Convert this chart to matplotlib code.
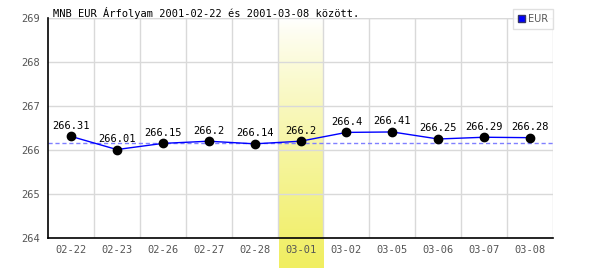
import numpy as np
import matplotlib.pyplot as plt
from matplotlib.patches import Patch

# MNB EUR exchange rates, 2001-02-22 .. 2001-03-08
dates = ["02-22", "02-23", "02-26", "02-27", "02-28", "03-01",
         "03-02", "03-05", "03-06", "03-07", "03-08"]
rates = [266.31, 266.01, 266.15, 266.2, 266.14, 266.2,
         266.4, 266.41, 266.25, 266.29, 266.28]
ref_level = 266.17
highlight = "03-01"
y_ticks = [264, 265, 266, 267, 268, 269]

MONO = "DejaVu Sans Mono"
GRID = "#d9d9d9"

fig = plt.figure(figsize=(6, 2.7), dpi=100)
ax = fig.add_axes([48 / 600, 32 / 270, 505 / 600, 220 / 270])

x = np.arange(len(dates))

# grid: horizontal at whole values, vertical between days
ax.set_yticks(y_ticks)
ax.set_xticks(x)
ax.set_xticks(x[:-1] + 0.5, minor=True)
ax.grid(axis="y", which="major", color=GRID, linewidth=1, zorder=0)
ax.grid(axis="x", which="minor", color=GRID, linewidth=1, zorder=0)
ax.axvline(len(dates) - 0.5, color=GRID, linewidth=1, zorder=0)
ax.axhline(y_ticks[-1], color=GRID, linewidth=1, zorder=0)

# highlighted day with a white-to-yellow gradient, reaching below the axis
hi = dates.index(highlight)
grad = np.linspace(0, 1, 256).reshape(-1, 1)
top = np.array([1.0, 1.0, 1.0])
bot = np.array([0xf0, 0xee, 0x60]) / 255
img = top + (bot - top) * grad[..., None] ** 0.85
ax.imshow(img, extent=(hi - 0.5 + 0.03, hi + 0.5, y_ticks[0] - 0.68, y_ticks[-1]),
          origin="upper", aspect="auto", clip_on=False, zorder=1)
ax.set_xlim(-0.5, len(dates) - 0.5)
ax.set_ylim(y_ticks[0], y_ticks[-1])

ax.axhline(ref_level, color="#8080ff", linewidth=1, linestyle=(0, (3, 2)), zorder=2)
ax.plot(x, rates, color="#0000ff", linewidth=1, zorder=3)
ax.plot(x, rates, "o", color="black", markersize=6, zorder=4)

for xi, v in zip(x, rates):
    ax.annotate(f"{v:g}", (xi, v), xytext=(0, 4), textcoords="offset points",
                ha="center", va="bottom", fontsize=7.5, family=MONO,
                color="black", zorder=5)

ax.set_xticklabels(dates)
ax.tick_params(axis="both", which="both", length=0, labelsize=7.5,
               labelcolor="#555555")
ax.tick_params(axis="y", pad=6)
ax.tick_params(axis="x", pad=5)
for lab in ax.get_xticklabels() + ax.get_yticklabels():
    lab.set_family(MONO)

for side in ("top", "right"):
    ax.spines[side].set_visible(False)
for side in ("left", "bottom"):
    ax.spines[side].set_color("black")
    ax.spines[side].set_linewidth(1.2)
    ax.spines[side].set_zorder(6)

fig.text(53 / 600, 1 - 13 / 270, "MNB EUR Árfolyam 2001-02-22 és 2001-03-08 között.",
         fontsize=7.5, family=MONO, va="center", ha="left")

leg = fig.legend(handles=[Patch(facecolor="#0000ff", edgecolor="#333366", label="EUR")],
                 loc="upper right", bbox_to_anchor=(553 / 600, 1 - 9 / 270),
                 fontsize=7, frameon=True, fancybox=False, borderpad=0.5,
                 handlelength=0.7, handleheight=0.7, handletextpad=0.3,
                 borderaxespad=0)
leg.get_frame().set_edgecolor(GRID)
leg.get_frame().set_linewidth(1)
for t in leg.get_texts():
    t.set_color("#555555")

fig.savefig("out.png", dpi=100)
